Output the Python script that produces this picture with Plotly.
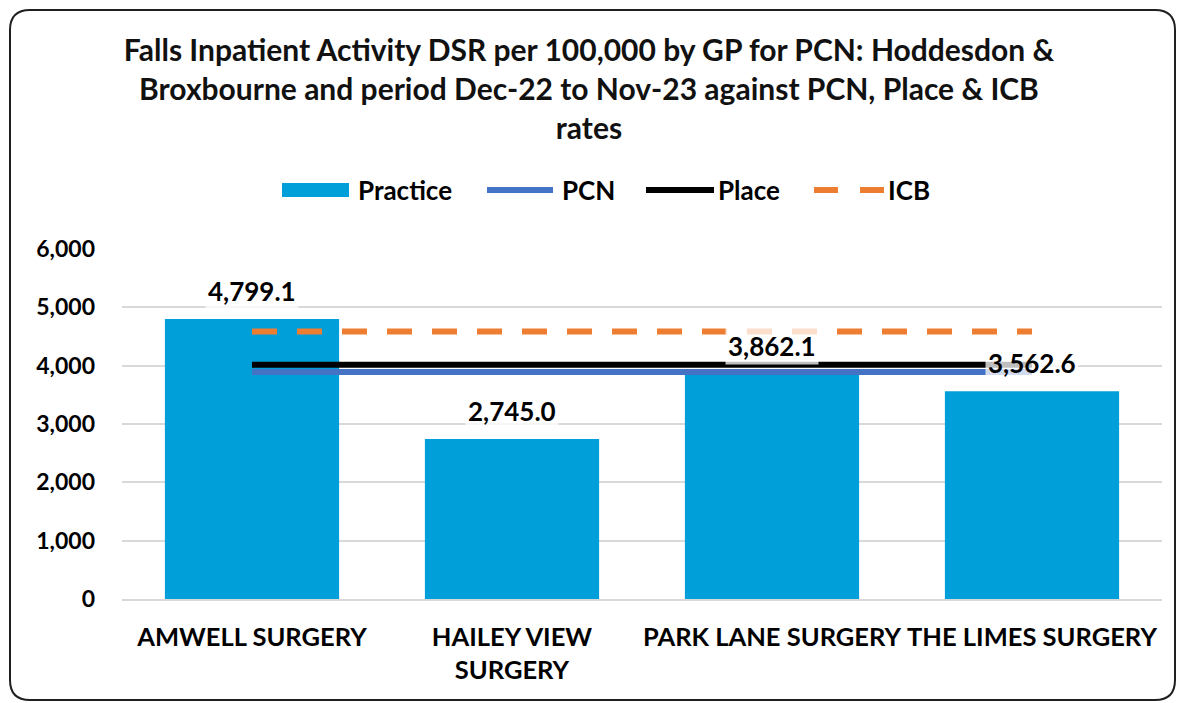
import plotly.graph_objects as go

categories = ["AMWELL SURGERY", "HAILEY VIEW SURGERY", "PARK LANE SURGERY", "THE LIMES SURGERY"]
tick_labels = ["AMWELL SURGERY", "HAILEY VIEW<br>SURGERY", "PARK LANE SURGERY", "THE LIMES SURGERY"]
practice = [4799.1, 2745.0, 3862.1, 3562.6]
pcn = [3890.0] * 4
place = [4015.0] * 4
icb = [4585.0] * 4
y_ticks = [0, 1000, 2000, 3000, 4000, 5000, 6000]
series_names = ["Practice", "PCN", "Place", "ICB"]
series_colors = ["#009FDA", "#4472C4", "#000000", "#ED7D31"]

FONT = "Lato"
W, H = 1178, 703
ML, MR, MT, MB = 122, 16, 249, 104
pw = W - ML - MR
ph = H - MT - MB


def px(x):
    return (x - ML) / pw


def py(y):
    return (H - MB - y) / ph


fig = go.Figure()
fig.add_trace(go.Bar(x=categories, y=practice, name=series_names[0],
                     marker=dict(color=series_colors[0], line=dict(width=0)), width=0.67))
fig.add_trace(go.Scatter(x=categories, y=pcn, name=series_names[1], mode="lines",
                         line=dict(color=series_colors[1], width=6)))
fig.add_trace(go.Scatter(x=categories, y=place, name=series_names[2], mode="lines",
                         line=dict(color=series_colors[2], width=6)))
fig.add_trace(go.Scatter(x=categories, y=icb, name=series_names[3], mode="lines",
                         line=dict(color=series_colors[3], width=6, dash="25px,20px")))

for c, v in zip(categories, practice):
    fig.add_annotation(x=c, y=v, text=f"<b>{v:,.1f}</b>", showarrow=False, yanchor="bottom", yshift=9,
                       font=dict(family=FONT, size=26, color="#000000"),
                       bgcolor="rgba(255,255,255,0.75)", borderpad=2)

# custom legend (Excel-style wide swatches)
LEG_Y = 190
leg_font = dict(family=FONT, size=26, color="#000000")
fig.add_shape(type="rect", xref="paper", yref="paper", x0=px(282), x1=px(349), y0=py(197), y1=py(183),
              fillcolor=series_colors[0], line=dict(width=0))
fig.add_annotation(xref="paper", yref="paper", x=px(356), y=py(LEG_Y), text="<b>" + series_names[0] + "</b>",
                   showarrow=False, xanchor="left", yanchor="middle", font=leg_font)
fig.add_shape(type="line", xref="paper", yref="paper", x0=px(487), x1=px(553), y0=py(LEG_Y), y1=py(LEG_Y),
              line=dict(color=series_colors[1], width=6))
fig.add_annotation(xref="paper", yref="paper", x=px(560), y=py(LEG_Y), text="<b>" + series_names[1] + "</b>",
                   showarrow=False, xanchor="left", yanchor="middle", font=leg_font)
fig.add_shape(type="line", xref="paper", yref="paper", x0=px(646), x1=px(714), y0=py(LEG_Y), y1=py(LEG_Y),
              line=dict(color=series_colors[2], width=6))
fig.add_annotation(xref="paper", yref="paper", x=px(716), y=py(LEG_Y), text="<b>" + series_names[2] + "</b>",
                   showarrow=False, xanchor="left", yanchor="middle", font=leg_font)
fig.add_shape(type="line", xref="paper", yref="paper", x0=px(814), x1=px(838), y0=py(LEG_Y), y1=py(LEG_Y),
              line=dict(color=series_colors[3], width=6))
fig.add_shape(type="line", xref="paper", yref="paper", x0=px(860), x1=px(884), y0=py(LEG_Y), y1=py(LEG_Y),
              line=dict(color=series_colors[3], width=6))
fig.add_annotation(xref="paper", yref="paper", x=px(886), y=py(LEG_Y), text="<b>" + series_names[3] + "</b>",
                   showarrow=False, xanchor="left", yanchor="middle", font=leg_font)

# rounded border
x0, x1, y0, y1, r = 10, 1175, 10, 700, 20
path = (f"M {px(x0+r)},{py(y0)} L {px(x1-r)},{py(y0)} Q {px(x1)},{py(y0)} {px(x1)},{py(y0+r)} "
        f"L {px(x1)},{py(y1-r)} Q {px(x1)},{py(y1)} {px(x1-r)},{py(y1)} "
        f"L {px(x0+r)},{py(y1)} Q {px(x0)},{py(y1)} {px(x0)},{py(y1-r)} "
        f"L {px(x0)},{py(y0+r)} Q {px(x0)},{py(y0)} {px(x0+r)},{py(y0)} Z")
fig.add_shape(type="path", path=path, xref="paper", yref="paper", line=dict(color="#202020", width=2),
              layer="above")

fig.update_layout(
    width=W, height=H,
    margin=dict(l=ML, r=MR, t=MT, b=MB),
    paper_bgcolor="white", plot_bgcolor="white",
    font=dict(family=FONT, size=24, color="#000000"),
    title=dict(text="<b>Falls Inpatient Activity DSR per 100,000 by GP for PCN: Hoddesdon &<br>"
                    "Broxbourne and period Dec-22 to Nov-23 against PCN, Place & ICB<br>rates</b>",
               x=0.5, xanchor="center", y=1 - 61 / H, yanchor="top", yref="container",
               font=dict(family=FONT, size=30, color="#111111")),
    showlegend=False,
    bargap=0.33,
)
fig.update_xaxes(tickvals=categories, ticktext=tick_labels, showgrid=False,
                 showline=True, linecolor="#D9D9D9", linewidth=2, ticks="", ticklabelstandoff=14,
                 tickfont=dict(family=FONT, size=25.5, weight="bold"))
fig.update_yaxes(range=[0, 6000], tickvals=y_ticks, tickformat=",", showgrid=True, gridcolor="#D9D9D9",
                 gridwidth=2, zeroline=False, showline=False, ticks="", ticklabelstandoff=26,
                 tickfont=dict(family=FONT, size=23, weight="bold"))
fig.write_html("out.html", config={"displayModeBar": False},
               post_script="document.body.style.margin='0';")
